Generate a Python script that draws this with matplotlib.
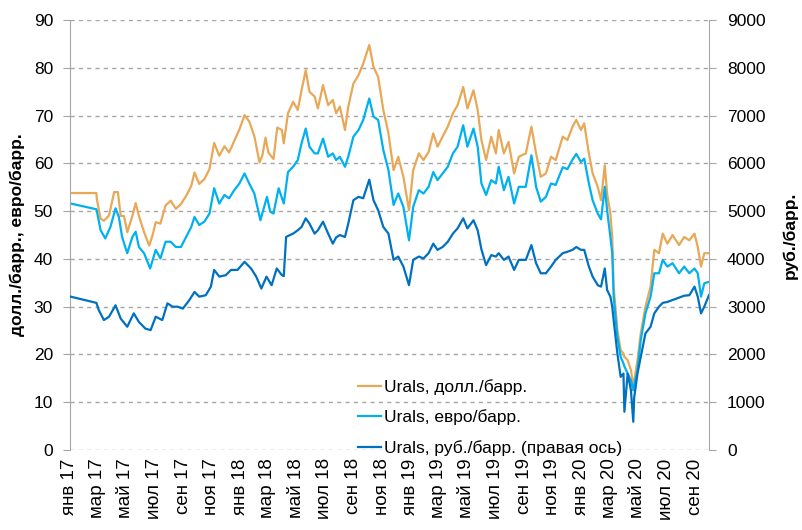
import matplotlib
matplotlib.use('Agg')
import matplotlib.pyplot as plt
import matplotlib.dates as mdates
from matplotlib.ticker import FuncFormatter, MultipleLocator
import pandas as pd

plt.rcParams['font.family'] = ['Liberation Sans', 'DejaVu Sans']

# --- данные ---
# начало периода: у каждого ряда свои точки
usd_dates_early = ['2017-01-03', '2017-02-27', '2017-02-28', '2017-03-08', '2017-03-15', '2017-03-26',
                   '2017-04-06', '2017-04-14', '2017-04-20', '2017-04-27', '2017-05-04', '2017-05-15',
                   '2017-05-22', '2017-05-29', '2017-06-09', '2017-06-20', '2017-06-27', '2017-07-04',
                   '2017-07-14', '2017-07-25', '2017-08-05', '2017-08-16', '2017-08-27', '2017-09-07',
                   '2017-09-18', '2017-09-25', '2017-10-05', '2017-10-16', '2017-10-27', '2017-11-06',
                   '2017-11-17', '2017-11-28', '2017-12-08', '2017-12-19', '2017-12-30', '2018-01-10',
                   '2018-01-20', '2018-01-31', '2018-02-11', '2018-02-17', '2018-02-24', '2018-03-02',
                   '2018-03-13', '2018-03-21', '2018-03-31', '2018-04-04']
usd_early = [53.8, 53.8, 52.5, 48.4, 48.0, 49.1,
             54.0, 54.0, 49.0, 49.0, 45.6, 49.0,
             51.7, 49.0, 45.6, 42.8, 44.9, 47.7,
             47.4, 51.2, 52.2, 50.5, 51.5, 53.2,
             55.3, 58.1, 55.7, 56.7, 58.8, 64.3,
             61.6, 63.6, 62.3, 64.7, 67.1, 70.1,
             68.8, 65.7, 60.2, 61.6, 65.4, 62.3,
             60.9, 67.5, 67.0, 64.2]

eur_dates_early = ['2017-01-03', '2017-02-27', '2017-03-01', '2017-03-08', '2017-03-18', '2017-03-29',
                   '2017-04-09', '2017-04-16', '2017-04-23', '2017-05-04', '2017-05-15', '2017-05-22',
                   '2017-05-29', '2017-06-09', '2017-06-22', '2017-07-04', '2017-07-14', '2017-07-25',
                   '2017-08-05', '2017-08-16', '2017-08-27', '2017-09-07', '2017-09-18', '2017-09-25',
                   '2017-10-05', '2017-10-16', '2017-10-27', '2017-11-06', '2017-11-17', '2017-11-28',
                   '2017-12-08', '2017-12-19', '2017-12-30', '2018-01-10', '2018-01-20', '2018-01-31',
                   '2018-02-13', '2018-02-21', '2018-02-27', '2018-03-06', '2018-03-13', '2018-03-24',
                   '2018-04-04']
eur_early = [51.6, 50.4, 49.5, 46.0, 44.3, 46.7,
             50.6, 48.8, 44.6, 41.2, 44.6, 45.7,
             42.5, 41.2, 38.0, 41.9, 40.1, 43.6,
             43.6, 42.5, 42.5, 44.6, 46.7, 48.8,
             47.1, 47.8, 49.5, 54.8, 51.6, 53.4,
             52.7, 54.4, 55.8, 57.9, 55.8, 53.7,
             48.1, 50.9, 53.0, 49.9, 49.5, 54.8,
             51.6]

rub_dates_early = ['2017-01-03', '2017-02-27', '2017-03-04', '2017-03-15', '2017-03-26', '2017-04-09',
                   '2017-04-20', '2017-05-04', '2017-05-18', '2017-05-29', '2017-06-12', '2017-06-23',
                   '2017-07-04', '2017-07-18', '2017-07-29', '2017-08-09', '2017-08-20', '2017-08-31',
                   '2017-09-14', '2017-09-25', '2017-10-05', '2017-10-19', '2017-10-30', '2017-11-06',
                   '2017-11-17', '2017-12-01', '2017-12-12', '2017-12-26', '2018-01-10', '2018-01-24',
                   '2018-02-04', '2018-02-15', '2018-02-26', '2018-03-09', '2018-03-20', '2018-03-31',
                   '2018-04-04', '2018-04-09']
rub_early = [3210, 3080, 2930, 2720, 2790, 3030,
             2750, 2580, 2860, 2680, 2540, 2510,
             2790, 2720, 3070, 3000, 3000, 2960,
             3140, 3310, 3210, 3240, 3420, 3770,
             3630, 3660, 3770, 3770, 3940, 3800,
             3630, 3380, 3630, 3450, 3800, 3660,
             3640, 4460]

# дальше - общие даты для трёх рядов
dates_common = ['2018-04-13', '2018-04-24', '2018-05-04', '2018-05-12', '2018-05-21', '2018-05-29',
                '2018-06-09', '2018-06-16', '2018-06-27', '2018-07-08', '2018-07-18', '2018-07-25',
                '2018-08-02', '2018-08-13', '2018-08-20', '2018-08-31', '2018-09-11', '2018-09-21',
                '2018-10-04', '2018-10-13', '2018-10-23', '2018-11-03', '2018-11-14', '2018-11-25',
                '2018-12-05', '2018-12-16', '2018-12-28', '2019-01-06', '2019-01-18', '2019-01-28',
                '2019-02-08', '2019-02-18', '2019-02-27', '2019-03-10', '2019-03-21', '2019-04-01',
                '2019-04-11', '2019-04-23', '2019-05-02', '2019-05-15', '2019-05-24', '2019-06-01',
                '2019-06-11', '2019-06-22', '2019-07-02', '2019-07-08', '2019-07-19', '2019-07-29',
                '2019-08-10', '2019-08-20', '2019-09-04', '2019-09-16', '2019-09-26', '2019-10-06',
                '2019-10-17', '2019-10-28', '2019-11-07', '2019-11-22', '2019-12-02', '2019-12-13',
                '2019-12-21', '2019-12-31', '2020-01-07', '2020-01-17', '2020-01-25', '2020-02-05',
                '2020-02-12', '2020-02-20', '2020-02-25', '2020-03-03', '2020-03-07', '2020-03-10',
                '2020-03-18', '2020-03-25', '2020-03-31', '2020-04-02', '2020-04-09', '2020-04-16',
                '2020-04-21', '2020-04-23', '2020-04-30', '2020-05-07', '2020-05-17', '2020-05-28',
                '2020-06-05', '2020-06-15', '2020-06-23', '2020-07-03', '2020-07-14', '2020-07-28',
                '2020-08-08', '2020-08-19', '2020-08-30', '2020-09-06', '2020-09-13', '2020-09-20',
                '2020-09-30']
usd_common = [70.5, 72.9, 71.2, 75.3, 79.5, 75.0,
              74.0, 71.5, 76.4, 72.2, 73.3, 70.5,
              71.9, 67.0, 71.9, 76.7, 78.5, 80.9,
              84.8, 80.2, 78.1, 71.2, 66.3, 58.6,
              61.4, 57.2, 50.2, 58.6, 62.1, 60.7,
              62.4, 66.3, 63.5, 65.6, 67.7, 70.5,
              72.2, 76.0, 71.5, 75.3, 71.2, 64.9,
              60.7, 65.6, 62.1, 67.0, 62.1, 64.5,
              57.9, 61.4, 62.1, 67.7, 62.1, 57.2,
              57.9, 61.4, 60.7, 65.6, 64.9, 67.7,
              69.1, 67.0, 68.4, 62.1, 57.9, 55.1,
              52.3, 59.6, 53.7, 49.5, 44.6, 34.2,
              25.1, 20.9, 20.2, 19.5, 18.8, 16.7,
              13.6, 14.5, 18.8, 24.4, 30.0, 34.2,
              41.9, 41.2, 45.3, 43.2, 45.0, 42.9,
              44.6, 43.9, 45.3, 42.5, 38.4, 41.2,
              41.2]
eur_common = [58.2, 59.3, 60.7, 64.2, 67.3, 63.5,
              62.1, 62.1, 65.2, 61.4, 62.1, 60.7,
              61.4, 59.3, 61.4, 65.6, 67.0, 69.1,
              73.6, 69.8, 69.1, 62.8, 58.6, 51.3,
              53.7, 50.9, 43.9, 50.9, 54.4, 53.7,
              55.1, 58.2, 56.5, 57.9, 59.3, 62.1,
              63.5, 68.0, 63.5, 67.3, 63.5, 55.8,
              53.4, 56.5, 55.8, 59.3, 54.4, 57.2,
              51.6, 55.1, 55.1, 61.7, 55.1, 52.0,
              53.0, 55.8, 55.5, 59.2, 58.8, 60.8,
              62.0, 60.3, 61.0, 55.8, 52.3, 49.5,
              48.3, 55.1, 50.2, 44.6, 41.2, 32.1,
              23.7, 19.5, 18.1, 17.5, 16.0, 14.6,
              12.5, 13.5, 16.7, 23.0, 28.6, 32.1,
              37.0, 37.0, 39.8, 38.4, 39.1, 37.0,
              38.4, 37.0, 38.0, 37.0, 32.1, 34.9,
              35.2]
rub_common = [4480, 4530, 4600, 4670, 4850, 4740,
              4530, 4600, 4780, 4530, 4320, 4450,
              4500, 4460, 4740, 5230, 5300, 5270,
              5660, 5230, 5020, 4670, 4530, 3980,
              4050, 3840, 3450, 3980, 4050, 4010,
              4120, 4320, 4190, 4250, 4360, 4530,
              4640, 4850, 4640, 4810, 4600, 4200,
              3870, 4080, 4050, 4120, 3980, 4050,
              3770, 3980, 3980, 4290, 3910, 3700,
              3700, 3840, 3980, 4120, 4150, 4190,
              4250, 4190, 4190, 3840, 3630, 3450,
              3420, 3800, 3350, 3210, 3000, 2720,
              2020, 1530, 1600, 800, 1600, 1250,
              590, 1100, 1600, 1950, 2440, 2580,
              2860, 3000, 3080, 3100, 3140, 3190,
              3230, 3240, 3420, 3210, 2860, 3000,
              3240]

months_ru = ['янв', 'фев', 'мар', 'апр', 'май', 'июн', 'июл', 'авг', 'сен', 'окт', 'ноя', 'дек']

usd_x = pd.to_datetime(usd_dates_early + dates_common)
eur_x = pd.to_datetime(eur_dates_early + dates_common)
rub_x = pd.to_datetime(rub_dates_early + dates_common)

c_usd = '#E8A857'
c_eur = '#00B0F0'
c_rub = '#0070C0'
grey = '#A6A6A6'

fig = plt.figure(figsize=(8.02, 5.30), dpi=100)
ax = fig.add_axes([0.087, 0.151, 0.797, 0.811])
ax2 = ax.twinx()

l1, = ax.plot(usd_x, usd_early + usd_common, color=c_usd, lw=1.6, label='Urals, долл./барр.')
l2, = ax.plot(eur_x, eur_early + eur_common, color=c_eur, lw=1.6, label='Urals, евро/барр.')
l3, = ax2.plot(rub_x, rub_early + rub_common, color=c_rub, lw=1.6, label='Urals, руб./барр. (правая ось)')

ax.set_xlim(pd.Timestamp('2017-01-01'), pd.Timestamp('2020-09-30'))
ax.set_ylim(0, 90)
ax2.set_ylim(0, 9000)
ax.yaxis.set_major_locator(MultipleLocator(10))
ax2.yaxis.set_major_locator(MultipleLocator(1000))

ax.xaxis.set_major_locator(mdates.MonthLocator(bymonth=[1, 3, 5, 7, 9, 11]))
ax.xaxis.set_major_formatter(FuncFormatter(
    lambda v, p: months_ru[mdates.num2date(v).month - 1] + ' ' + mdates.num2date(v).strftime('%y')))
ax.tick_params(axis='x', length=0, labelsize=13.5, rotation=90, pad=6)

ax.grid(axis='y', color=grey, linestyle=(0, (3, 3)), lw=1)
ax.set_axisbelow(True)

for a in (ax, ax2):
    a.spines['top'].set_visible(False)
    a.spines['bottom'].set_visible(False)
    a.spines['left'].set_color(grey)
    a.spines['right'].set_color(grey)
    a.tick_params(axis='y', length=5, color=grey, labelsize=12.5, direction='out')
ax.spines['right'].set_visible(False)
ax2.spines['left'].set_visible(False)
ax.tick_params(axis='y', pad=7)
ax2.tick_params(axis='y', pad=8)

ax.set_ylabel('долл./барр., евро/барр.', fontsize=12.5, fontweight='bold', labelpad=6)
ax2.set_ylabel('руб./барр.', fontsize=12.5, fontweight='bold', labelpad=12)

ax2.legend(handles=[l1, l2, l3], loc='lower left', bbox_to_anchor=(0.44, -0.03),
           frameon=False, fontsize=12.5, handlelength=1.3, handletextpad=0.2, labelspacing=0.85,
           borderaxespad=0)

fig.savefig('out.png', dpi=100)
